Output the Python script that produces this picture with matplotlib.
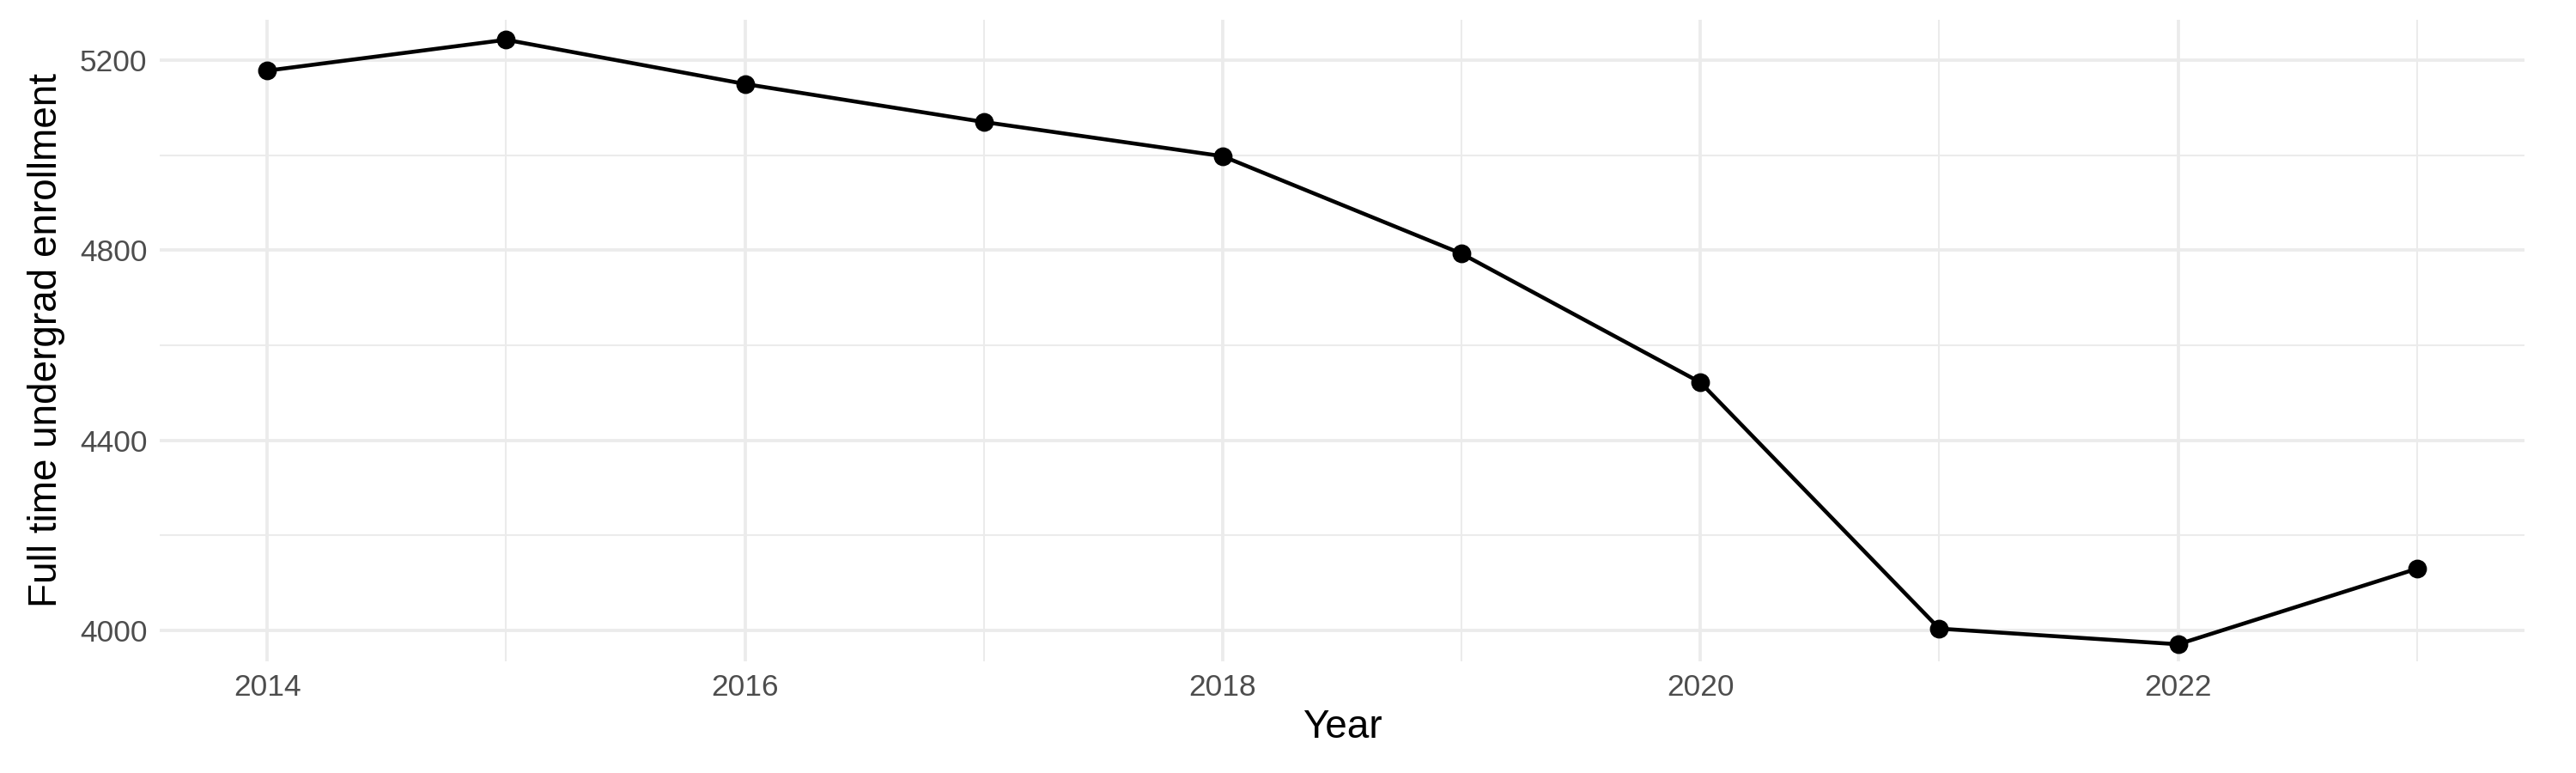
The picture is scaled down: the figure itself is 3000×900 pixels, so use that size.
import matplotlib.pyplot as plt

plt.rcParams['font.family'] = ['Liberation Sans', 'DejaVu Sans']

years = [2014, 2015, 2016, 2017, 2018, 2019, 2020, 2021, 2022, 2023]
enrollment = [5178, 5243, 5150, 5070, 4998, 4793, 4522, 4004, 3971, 4130]

fig, ax = plt.subplots(figsize=(10, 3), dpi=300)
fig.subplots_adjust(left=0.062, right=0.98, top=0.975, bottom=0.145)

ax.plot(years, enrollment, color='black', linewidth=1.1, zorder=3)
ax.scatter(years, enrollment, color='black', s=18, zorder=4)

ax.set_xlim(2013.55, 2023.45)
ax.set_ylim(3936, 5286)
ax.set_xticks([2014, 2016, 2018, 2020, 2022])
ax.set_xticks([2015, 2017, 2019, 2021, 2023], minor=True)
ax.set_yticks([4000, 4400, 4800, 5200])
ax.set_yticks([4200, 4600, 5000], minor=True)

ax.grid(True, which='major', color='#ebebeb', linewidth=0.9)
ax.grid(True, which='minor', color='#ebebeb', linewidth=0.5)
ax.tick_params(which='both', length=0)
ax.tick_params(labelsize=8.5, labelcolor='#4d4d4d')
for s in ax.spines.values():
    s.set_visible(False)

ax.set_xlabel('Year', fontsize=11, labelpad=2)
ax.set_ylabel('Full time undergrad enrollment', fontsize=11, labelpad=4)

plt.savefig('out.png', dpi=300)
